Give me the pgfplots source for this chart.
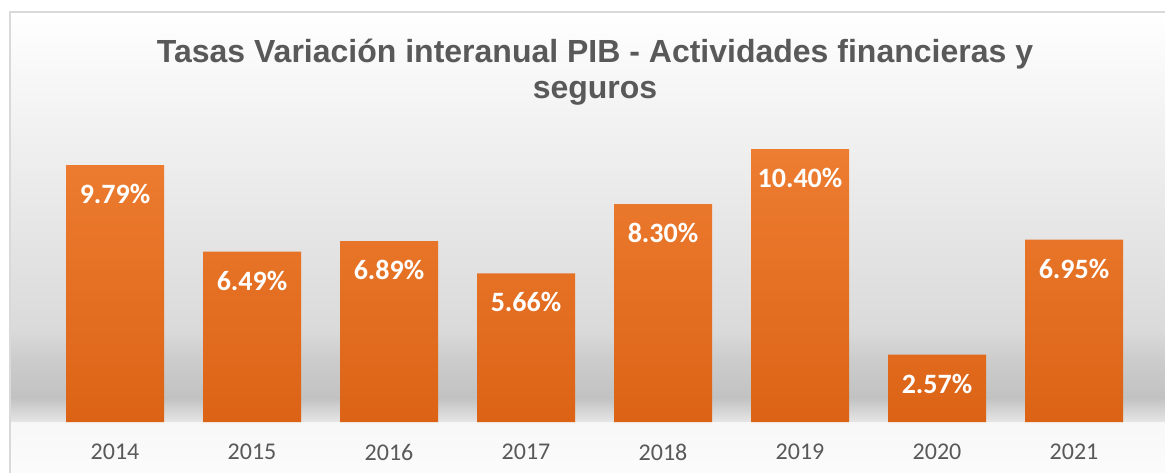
\documentclass[border=0pt]{standalone}
\usepackage{fontspec}
\setmainfont{Carlito}
\newfontfamily\titlefont{Liberation Sans}
\usepackage{pgfplots}
\pgfplotsset{compat=1.18}
\definecolor{barTop}{HTML}{ED7D31}
\definecolor{barBot}{HTML}{DC6316}
\definecolor{txtgray}{HTML}{595959}
\definecolor{frameg}{HTML}{D9D9D9}
\begin{document}
\begin{tikzpicture}
% px -> pt: x' = (px-46.5)*0.5, y' = (422-py)*0.5
\useasboundingbox (-23.25pt,-25pt) rectangle (559.25pt,211pt);
% background
\fill[top color=white, bottom color=white!95!black] (-18.25pt,205pt) rectangle (565pt,151pt);
\fill[top color=white!95!black, bottom color=white!85.5!black] (-18.25pt,151.2pt) rectangle (565pt,46pt);
\fill[top color=white!85.5!black, bottom color=white!80!black] (-18.25pt,46.2pt) rectangle (565pt,31pt);
\fill[top color=white!80!black, bottom color=white!76!black] (-18.25pt,31.2pt) rectangle (565pt,12pt);
\fill[top color=white!76!black, bottom color=white!90!black] (-18.25pt,12.2pt) rectangle (565pt,0pt);
\fill[top color=white!97!black, bottom color=white!99!black] (-18.25pt,0pt) rectangle (565pt,-30pt);
\draw[frameg, line width=1pt] (-18.25pt,-30pt) -- (-18.25pt,205pt) -- (565pt,205pt);
% title
\node[anchor=base, text=txtgray, font=\titlefont\bfseries\fontsize{16}{19}\selectfont] at (274.25pt,179.5pt) {Tasas Variación interanual PIB - Actividades financieras y};
\node[anchor=base, text=txtgray, font=\titlefont\bfseries\fontsize{16}{19}\selectfont] at (274.25pt,162pt) {seguros};
\begin{axis}[
  at={(0,0)}, anchor=south west,
  scale only axis,
  width=548pt, height=144.375pt,
  xmin=-0.5, xmax=7.5, ymin=0, ymax=11,
  axis lines=none,
  xtick=data,
  xticklabels={2014,2015,2016,2017,2018,2019,2020,2021},
  major tick length=0pt,
  ytick=\empty,
  clip=false,
]
\addplot[ybar, bar width=49pt, draw=none, top color=barTop, bottom color=barBot,
  point meta=explicit symbolic,
  nodes near coords,
  every node near coord/.append style={anchor=center, yshift=-14.5pt, text=white, fill=none, draw=none, font=\bfseries\fontsize{14}{16}\selectfont},
] coordinates {
  (0,9.79) [9.79\%]
  (1,6.49) [6.49\%]
  (2,6.89) [6.89\%]
  (3,5.66) [5.66\%]
  (4,8.30) [8.30\%]
  (5,10.40) [10.40\%]
  (6,2.57) [2.57\%]
  (7,6.95) [6.95\%]
};
\end{axis}
% x labels drawn by axis? (axis lines=none hides them) -> use second axis for labels
\begin{axis}[
  at={(0,0)}, anchor=south west,
  scale only axis,
  width=548pt, height=144.375pt,
  xmin=-0.5, xmax=7.5, ymin=0, ymax=11,
  axis x line=bottom, axis y line=none,
  x axis line style={draw=none},
  xtick={0,...,7},
  xticklabels={2014,2015,2016,2017,2018,2019,2020,2021},
  major tick length=0pt,
  xticklabel style={text=txtgray, font=\fontsize{12}{14}\selectfont, yshift=-7.5pt},
  ytick=\empty,
]
\end{axis}
\end{tikzpicture}
\end{document}
